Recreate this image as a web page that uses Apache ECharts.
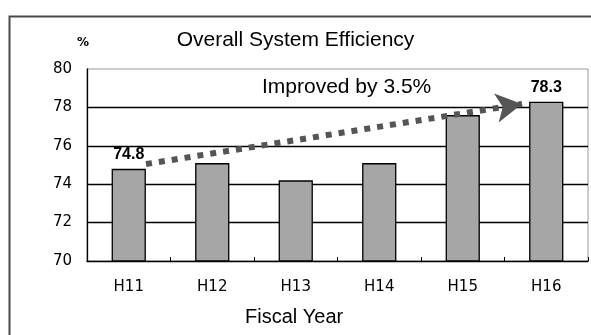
<!DOCTYPE html>
<html>
<head>
<meta charset="utf-8">
<style>html,body{margin:0;padding:0;background:#fff;}#c{width:591px;height:335px;}</style>
<script src="https://cdn.jsdelivr.net/npm/echarts@6/dist/echarts.min.js"></script>
</head>
<body>
<div id="c"></div>
<script>
var categories = ['H11', 'H12', 'H13', 'H14', 'H15', 'H16'];
var efficiency = [74.8, 75.1, 74.2, 75.1, 77.6, 78.3];
var labeledYears = ['H11', 'H16'];
var yTicks = [70, 72, 74, 76, 78, 80];
// trend arrow: [category position, value] at start and end
var arrowStart = [0.707, 75.05];
var arrowEnd = [5.21, 78.18];

var chart = echarts.init(document.getElementById('c'));
chart.setOption({
  animation: false,
  backgroundColor: '#fff',
  graphic: [{
    type: 'rect', left: 7, top: 14, z: -1,
    shape: {x: 0, y: 0, width: 700, height: 400},
    style: {fill: 'none', stroke: '#4a4a4a', lineWidth: 2}
  }, {
    type: 'text', left: 77, top: 37,
    style: {text: '%', font: 'bold 12px "DejaVu Sans"', fill: '#000'}
  }, {
    type: 'text', left: 'center', top: 30,
    style: {text: 'Overall System Efficiency', font: '21px "Liberation Sans"', fill: '#000'}
  }, {
    type: 'text', left: 262, top: 77,
    style: {text: 'Improved by 3.5%', font: '21px "Liberation Sans"', fill: '#000'}
  }, {
    type: 'text', left: 245, top: 307,
    style: {text: 'Fiscal Year', font: '20px "Liberation Sans"', fill: '#000'}
  }],
  grid: {left: 87, top: 69, right: 3, bottom: 74, show: true, borderColor: '#999', borderWidth: 1, backgroundColor: 'transparent'},
  xAxis: [{
    type: 'category', data: categories,
    axisLine: {lineStyle: {color: '#000', width: 1.3}},
    axisTick: {show: true, inside: true, length: 4, lineStyle: {color: '#000'}},
    axisLabel: {margin: 19, color: '#000', fontSize: 15, fontFamily: 'DejaVu Sans'}
  }, {
    type: 'value', min: 0, max: 6, show: false
  }],
  yAxis: {
    type: 'value', min: yTicks[0], max: yTicks[yTicks.length - 1], interval: 2,
    axisLine: {show: true, lineStyle: {color: '#000', width: 1.3}},
    axisTick: {show: false},
    axisLabel: {margin: 15, color: '#000', fontSize: 15, fontFamily: 'DejaVu Sans'},
    splitLine: {show: true, showMinLine: false, showMaxLine: false, lineStyle: {color: '#000', width: 1.3}}
  },
  series: [{
    type: 'bar',
    data: efficiency.map(function (v, i) {
      return {
        value: v,
        label: {show: labeledYears.indexOf(categories[i]) >= 0}
      };
    }),
    barWidth: '41%',
    itemStyle: {color: '#a6a6a6', borderColor: '#000', borderWidth: 1.3},
    label: {position: 'top', distance: 6, color: '#000', fontSize: 16, fontWeight: 'bold', fontFamily: 'Liberation Sans', formatter: function (p) { return p.value.toFixed(1); }}
  }, {
    type: 'line', xAxisIndex: 1, data: [], symbol: 'none',
    markLine: {
      silent: true, symbol: ['none', 'arrow'], symbolSize: [22, 26],
      label: {show: false},
      lineStyle: {color: '#555', width: 6, type: [6, 7]},
      data: [[{coord: arrowStart}, {coord: arrowEnd}]]
    }
  }]
});
</script>
</body>
</html>
